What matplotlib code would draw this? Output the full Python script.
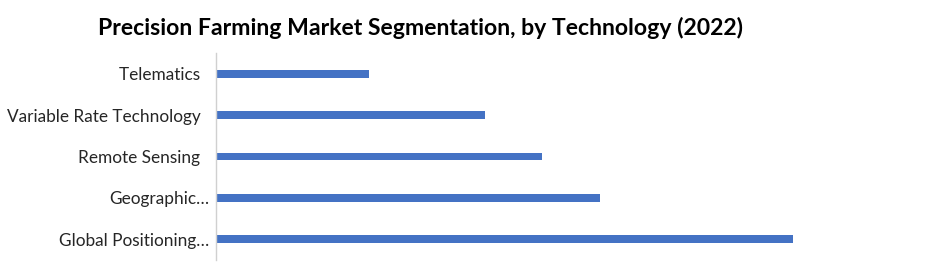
import numpy as np
import matplotlib.pyplot as plt

# ------ data (bar lengths, arbitrary units) ------
categories = ["Global Positioning…", "Geographic…", "Remote Sensing  ",
              "Variable Rate Technology  ", "Telematics  "]
values = [577, 384, 326, 269, 153]

bar_color = "#4472C4"

fig = plt.figure(figsize=(9.42, 2.8), dpi=100)
ax = fig.add_axes([216/942, 20/280, 679/942, 207/280])

y = np.arange(len(categories))
ax.barh(y, values, height=0.19, color=bar_color)
ax.set_ylim(-0.5, len(categories) - 0.5)
ax.set_xlim(0, 679)

ax.set_yticks(y)
ax.set_yticklabels(categories, fontsize=12.4, family="Lato", color="#262626")
ax.tick_params(axis="y", length=0, pad=5)
ax.set_xticks([])

for s in ["top", "right", "bottom"]:
    ax.spines[s].set_visible(False)
ax.spines["left"].set_color("#d0d0d0")
ax.spines["left"].set_linewidth(1)

fig.text(421/942, 1 - 28/280, "Precision Farming Market Segmentation, by Technology (2022)",
         ha="center", va="center", fontsize=16.6, fontweight="bold", family="Lato")

fig.savefig("out.png", dpi=100)
